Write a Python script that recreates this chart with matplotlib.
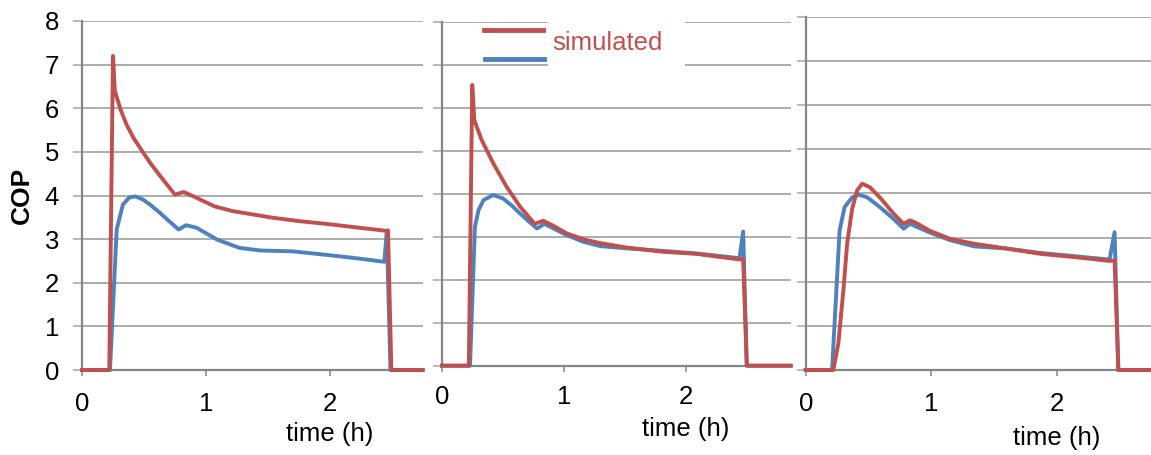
import matplotlib
matplotlib.use("Agg")
import matplotlib.pyplot as plt
from matplotlib.patches import Rectangle
from matplotlib.lines import Line2D

plt.rcParams['font.family'] = ['Liberation Sans', 'DejaVu Sans']

# 颜色
RED = '#C0504D'
BLUE = '#4F81BD'
GRID = '#A6A6A6'
AXIS = '#868686'

# 数据
# 图1
t1_sim = [0, 0.22, 0.25, 0.265, 0.31, 0.36, 0.42, 0.49, 0.55, 0.63, 0.70, 0.75, 0.82, 0.90, 1.07, 1.22, 1.54, 1.76, 1.97, 2.24, 2.457, 2.47, 2.497, 2.75]
cop1_sim = [0, 0, 7.2, 6.4, 5.98, 5.62, 5.3, 5.0, 4.75, 4.45, 4.2, 4.02, 4.08, 3.98, 3.75, 3.64, 3.49, 3.41, 3.35, 3.26, 3.19, 3.2, 0, 0]
t1_meas = [0, 0.226, 0.28, 0.33, 0.38, 0.43, 0.49, 0.55, 0.63, 0.70, 0.78, 0.84, 0.925, 1.09, 1.27, 1.44, 1.70, 1.97, 2.19, 2.44, 2.46, 2.49, 2.75]
cop1_meas = [0, 0, 3.22, 3.79, 3.95, 3.98, 3.91, 3.79, 3.6, 3.42, 3.22, 3.32, 3.26, 2.99, 2.80, 2.74, 2.72, 2.64, 2.57, 2.48, 3.15, 0, 0]

# 图2
t2_sim = [0, 0.22, 0.248, 0.265, 0.325, 0.42, 0.53, 0.64, 0.76, 0.83, 0.91, 1.02, 1.16, 1.30, 1.51, 1.81, 2.09, 2.25, 2.44, 2.47, 2.50, 2.86]
cop2_sim = [0, 0, 6.53, 5.71, 5.25, 4.71, 4.16, 3.70, 3.30, 3.37, 3.26, 3.08, 2.94, 2.85, 2.75, 2.65, 2.60, 2.54, 2.47, 2.48, 0, 0]
t2_meas = [0, 0.23, 0.27, 0.30, 0.34, 0.42, 0.50, 0.57, 0.64, 0.71, 0.78, 0.84, 1.02, 1.16, 1.30, 1.51, 1.81, 2.09, 2.25, 2.44, 2.47, 2.50, 2.86]
cop2_meas = [0, 0, 3.23, 3.62, 3.85, 3.97, 3.89, 3.73, 3.54, 3.36, 3.19, 3.30, 3.04, 2.88, 2.78, 2.73, 2.67, 2.61, 2.56, 2.50, 3.12, 0, 0]

# 图3
t3_sim = [0, 0.22, 0.26, 0.30, 0.33, 0.37, 0.41, 0.45, 0.51, 0.59, 0.70, 0.78, 0.83, 0.88, 0.99, 1.15, 1.34, 1.60, 1.87, 2.13, 2.42, 2.46, 2.49, 2.75]
cop3_sim = [0, 0, 0.60, 1.80, 2.86, 3.65, 4.07, 4.22, 4.14, 3.91, 3.54, 3.31, 3.39, 3.33, 3.15, 2.97, 2.86, 2.75, 2.63, 2.56, 2.47, 2.48, 0, 0]
t3_meas = [0, 0.21, 0.27, 0.31, 0.37, 0.42, 0.49, 0.59, 0.70, 0.78, 0.83, 0.99, 1.15, 1.34, 1.60, 1.87, 2.13, 2.42, 2.46, 2.49, 2.75]
cop3_meas = [0, 0, 3.16, 3.69, 3.91, 3.97, 3.91, 3.69, 3.42, 3.20, 3.31, 3.11, 2.94, 2.80, 2.75, 2.65, 2.58, 2.50, 3.12, 0, 0]

x_ticks = [0, 1, 2]
y_ticks = [0, 1, 2, 3, 4, 5, 6, 7, 8]
x_max = [2.75, 2.86, 2.75]
legend_label = 'simulated'

W, H = 1151, 455
fig = plt.figure(figsize=(W / 100, H / 100), dpi=100)

# 每个子图的位置（像素：左、右、下、上）
boxes = [(82, 422.7, 370, 21), (442, 790.7, 365.7, 21.7), (805.7, 1151, 370, 16.7)]
label_offsets = [64, 63, 68]
tick_pads = [12, 10, 12]

panels = [
    (t1_sim, cop1_sim, t1_meas, cop1_meas),
    (t2_sim, cop2_sim, t2_meas, cop2_meas),
    (t3_sim, cop3_sim, t3_meas, cop3_meas),
]

for i, (ts, cs, tm, cm) in enumerate(panels):
    l, r, b, t = boxes[i]
    ax = fig.add_axes([l / W, (H - b) / H, (r - l) / W, (b - t) / H])
    ax.plot(tm, cm, color=BLUE, lw=2.8, clip_on=False, zorder=3, solid_joinstyle='round')
    ax.plot(ts, cs, color=RED, lw=2.8, clip_on=False, zorder=4, solid_joinstyle='round')
    ax.set_xlim(0, x_max[i])
    ax.set_ylim(0, 8)
    ax.set_xticks(x_ticks)
    ax.set_yticks(y_ticks)
    ax.grid(axis='y', color=GRID, lw=1.3)
    ax.set_axisbelow(True)
    for s in ['top', 'right']:
        ax.spines[s].set_visible(False)
    for s in ['left', 'bottom']:
        ax.spines[s].set_color(AXIS)
        ax.spines[s].set_linewidth(1.6)
    ax.tick_params(axis='y', length=6.5, width=1.1, color=GRID, pad=10, labelsize=18.5)
    ax.tick_params(axis='x', length=4, width=1.1, color=AXIS, pad=tick_pads[i], labelsize=18.5)
    if i > 0:
        ax.tick_params(axis='y', labelleft=False)
    ax.annotate('time (h)', xy=(2, 0), xycoords=('data', 'axes fraction'),
                xytext=(0, -label_offsets[i]), textcoords='offset pixels',
                ha='center', va='center', fontsize=18.5)
    if i == 0:
        ax.text(-0.176, 0.5, 'COP', transform=ax.transAxes, rotation=90,
                ha='center', va='center', fontsize=19, fontweight='bold')

# 图例（原图中部分被遮挡的样式）
fig.add_artist(Rectangle((548 / W, 1 - 80 / H), (685 - 548) / W, 80 / H,
                         transform=fig.transFigure, facecolor='white', edgecolor='none', zorder=5))
fig.add_artist(Line2D([484 / W, 543 / W], [1 - 30 / H, 1 - 30 / H], transform=fig.transFigure,
                      color=RED, lw=3.5, zorder=6))
fig.add_artist(Line2D([485 / W, 544 / W], [1 - 59 / H, 1 - 59 / H], transform=fig.transFigure,
                      color=BLUE, lw=3.5, zorder=6))
fig.text(552 / W, 1 - 43 / H, legend_label, color=RED, fontsize=18.5, ha='left', va='center', zorder=6)

plt.savefig('out.png', dpi=100)
plt.close()
